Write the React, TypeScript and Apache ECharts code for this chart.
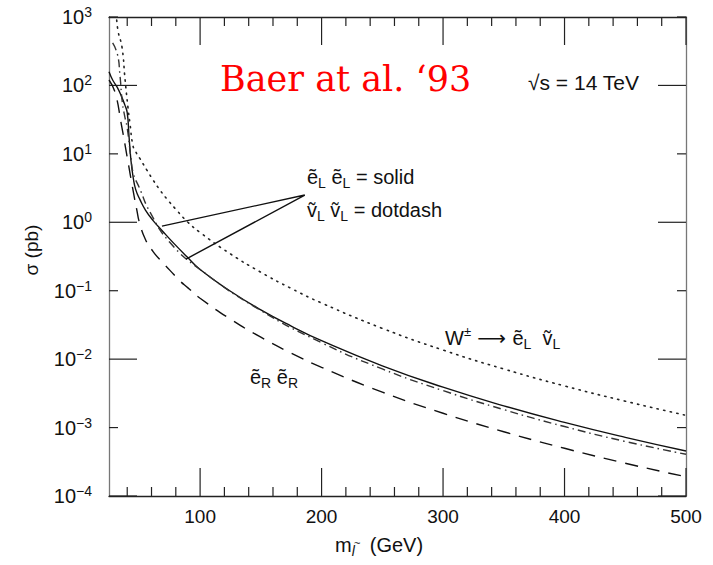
import React, { useEffect, useRef } from "react";
import * as echarts from "echarts";

// ---- data (mass in GeV, cross section in pb) ----
const massELEL = [25, 28, 31.6, 35, 38, 40, 41.5, 43, 45, 47, 50.5, 55, 61.5, 68.6, 78, 89, 100, 125, 150, 175, 200, 250, 300, 350, 400, 450, 500];
const sigmaELEL = [158, 120, 95, 71, 52, 40, 17.8, 8.3, 4.4, 3.0, 2.14, 1.51, 1.05, 0.76, 0.50, 0.316, 0.204, 0.0982, 0.0525, 0.0304, 0.0186, 0.00798, 0.00389, 0.00208, 0.00119, 0.000719, 0.000455];

const massSnSn = [28, 32, 34, 36, 38, 40, 43, 45, 50, 59, 75, 100, 150, 200, 250, 300, 350, 400, 450, 500];
const sigmaSnSn = [417, 282, 141, 56, 35, 24, 8.9, 5.2, 3.2, 1.38, 0.51, 0.204, 0.0513, 0.01738, 0.00719, 0.00347, 0.00183, 0.001035, 0.000627, 0.000407];

const massERER = [25, 30, 35, 40, 45, 48, 50, 55, 61, 68, 75, 83, 90, 100, 125, 150, 175, 200, 250, 300, 350, 400, 450, 500];
const sigmaERER = [120, 79, 28, 8.9, 2.8, 1.48, 1.0, 0.56, 0.38, 0.27, 0.20, 0.141, 0.110, 0.0776, 0.0384, 0.0209, 0.01225, 0.00759, 0.0033, 0.00162, 0.000869, 0.000498, 0.000301, 0.000191];

const massW = [31, 32.4, 35.7, 38.2, 40.6, 42.3, 44.7, 47, 50.5, 56.3, 61.2, 67, 72.7, 80, 90, 100, 125, 150, 175, 200, 250, 300, 350, 400, 450, 500];
const sigmaW = [1122, 631, 363, 123, 47.9, 27.5, 13.2, 10.7, 8.5, 5.75, 4.17, 2.95, 2.19, 1.55, 1.0, 0.708, 0.345, 0.186, 0.1079, 0.0661, 0.0282, 0.01358, 0.00718, 0.00406, 0.00243, 0.00151];

// pointer lines of the legend: end on solid curve -> apex at label -> end on solid curve
const pointerMass = [68.6, 186.2, 88.4];
const pointerSigma = [0.88, 2.5, 0.29];

// axis range and ticks
const X_MIN = 25;
const X_MAX = 500;
const Y_MIN = 1e-4;
const Y_MAX = 1e3;
const xMajorTicks = [100, 200, 300, 400, 500];
const xMinorTicks = [40, 60, 80, 120, 140, 160, 180, 220, 240, 260, 280, 320, 340, 360, 380, 420, 440, 460, 480];
const yLongTicks = [1e-4, 1e-2, 1, 100];
const yShortTicks = [1e-3, 1e-1, 10, 1000];

const FONT = "'Liberation Sans', Arial, sans-serif";

const pairs = (xs: number[], ys: number[]) => xs.map((x, i) => [x, ys[i]]);

const tickStyle = { stroke: "#222", lineWidth: 1.2 };

const xTickSeries = (values: number[], len: number) => ({
  type: "custom",
  silent: true,
  data: values.map((v) => [v, 1]),
  renderItem: (_p: any, api: any) => {
    const v = api.value(0);
    const b = api.coord([v, Y_MIN]);
    const t = api.coord([v, Y_MAX]);
    return {
      type: "group",
      children: [
        { type: "line", shape: { x1: b[0], y1: b[1], x2: b[0], y2: b[1] - len }, style: tickStyle },
        { type: "line", shape: { x1: t[0], y1: t[1], x2: t[0], y2: t[1] + len }, style: tickStyle },
      ],
    };
  },
});

const yTickSeries = (values: number[], len: number) => ({
  type: "custom",
  silent: true,
  data: values.map((v) => [100, v]),
  renderItem: (_p: any, api: any) => {
    const v = api.value(1);
    const l = api.coord([X_MIN, v]);
    const r = api.coord([X_MAX, v]);
    return {
      type: "group",
      children: [
        { type: "line", shape: { x1: l[0], y1: l[1], x2: l[0] + len, y2: l[1] }, style: tickStyle },
        { type: "line", shape: { x1: r[0], y1: r[1], x2: r[0] - len, y2: r[1] }, style: tickStyle },
      ],
    };
  },
});

export default function App() {
  const ref = useRef<HTMLDivElement>(null);
  useEffect(() => {
    document.body.style.margin = "0";
    const chart = echarts.init(ref.current!, null, { renderer: "svg" });

    const xAxisDef = (pos: "bottom" | "top", labels: boolean) => ({
      type: "value",
      position: pos,
      min: X_MIN,
      max: X_MAX,
      axisLine: { show: true, onZero: false, lineStyle: { color: "#222", width: 1.3 } },
      axisTick: { show: false },
      axisLabel: labels
        ? { show: true, customValues: xMajorTicks, fontSize: 19, fontFamily: FONT, color: "#111", margin: 11 }
        : { show: false },
      splitLine: { show: false },
    });

    const yAxisDef = (pos: "left" | "right", labels: boolean) => ({
      type: "log",
      logBase: 10,
      position: pos,
      min: Y_MIN,
      max: Y_MAX,
      splitNumber: 7,
      axisLine: { show: true, onZero: false, lineStyle: { color: "#777", width: 1.3 } },
      axisTick: { show: false },
      axisLabel: labels
        ? {
            show: true,
            margin: 17,
            formatter: (v: number) => {
              const e = Math.round(Math.log10(v));
              const s = e < 0 ? "\u2212" + -e : String(e);
              return "{b|10}{s|" + s + "}";
            },
            rich: {
              b: { fontSize: 20, fontFamily: FONT, color: "#111", lineHeight: 24 },
              s: { fontSize: 14, fontFamily: FONT, color: "#111", lineHeight: 14, verticalAlign: "top" },
            },
          }
        : { show: false },
      splitLine: { show: false },
    });

    const t = { fontSize: 20, fontFamily: FONT, fill: "#111", lineHeight: 26, verticalAlign: "middle" };
    const sub = { fontSize: 14, fontFamily: FONT, fill: "#111", lineHeight: 12, verticalAlign: "bottom" };
    const sup = { fontSize: 13, fontFamily: FONT, fill: "#111", lineHeight: 12, verticalAlign: "top" };
    const arrow = { fontSize: 20, fontFamily: "'DejaVu Sans', sans-serif", fill: "#111", lineHeight: 26, verticalAlign: "middle" };

    const curve = (name: string, xs: number[], ys: number[], lineStyle: any) => ({
      name,
      type: "line",
      data: pairs(xs, ys),
      symbol: "none",
      smooth: 0.5,
      lineStyle,
      silent: true,
    });

    const option: any = {
      animation: false,
      grid: { left: 109, right: 27, top: 17, bottom: 69 },
      xAxis: [xAxisDef("bottom", true), xAxisDef("top", false)],
      yAxis: [yAxisDef("left", true), yAxisDef("right", false)],
      series: [
        xTickSeries(xMajorTicks, 28),
        xTickSeries(xMinorTicks, 9),
        yTickSeries(yLongTicks, 28),
        yTickSeries(yShortTicks, 9),
        curve("eLeL", massELEL, sigmaELEL, { color: "#111", width: 1.4 }),
        curve("snsn", massSnSn, sigmaSnSn, { color: "#333", width: 1.4, type: [8, 4, 1.5, 4] }),
        curve("eReR", massERER, sigmaERER, { color: "#111", width: 1.4, type: [13, 9] }),
        curve("W", massW, sigmaW, { color: "#222", width: 1.6, type: [1.3, 5.4], cap: "round" }),
        {
          name: "pointer",
          type: "line",
          data: pairs(pointerMass, pointerSigma),
          symbol: "none",
          lineStyle: { color: "#111", width: 1.4 },
          silent: true,
        },
      ],
      graphic: [
        {
          type: "text",
          x: 220,
          y: 79,
          style: { text: "Baer at al. \u201893", fill: "#ff0000", fontSize: 35, fontFamily: "'DejaVu Serif', serif", verticalAlign: "middle" },
        },
        {
          type: "text",
          x: 528,
          y: 82,
          style: { text: "\u221As = 14 TeV", fill: "#111", fontSize: 21, fontFamily: FONT, verticalAlign: "middle" },
        },
        {
          type: "text",
          x: 307,
          y: 177,
          style: { text: "{t|\u1EBD}{sub|L}{t| \u1EBD}{sub|L}{t| = solid}", rich: { t, sub }, verticalAlign: "middle" },
        },
        {
          type: "text",
          x: 307,
          y: 210,
          style: { text: "{t|\u1E7D}{sub|L}{t| \u1E7D}{sub|L}{t| = dotdash}", rich: { t, sub }, verticalAlign: "middle" },
        },
        {
          type: "text",
          x: 445,
          y: 338,
          style: { text: "{t|W}{sup|\u00B1}{a| \u27F6 }{t|\u1EBD}{sub|L}{t|  \u1E7D}{sub|L}", rich: { t, sub, sup, a: arrow }, verticalAlign: "middle" },
        },
        {
          type: "text",
          x: 250,
          y: 377,
          style: { text: "{t|\u1EBD}{sub|R}{t| \u1EBD}{sub|R}", rich: { t, sub }, verticalAlign: "middle" },
        },
        {
          type: "text",
          x: 335,
          y: 545,
          style: {
            text: "{t|m}{sub|l}{n|(GeV)}",
            rich: { t, sub: { ...sub, fontStyle: "italic" }, n: { ...t, padding: [0, 0, 0, 15] } },
            verticalAlign: "middle",
          },
        },
        {
          type: "text",
          x: 354,
          y: 543,
          style: { text: "~", fill: "#111", fontSize: 11, fontFamily: FONT, verticalAlign: "middle" },
        },
        {
          type: "text",
          x: 31,
          y: 250,
          rotation: Math.PI / 2,
          style: { text: "\u03C3 (pb)", fill: "#111", fontSize: 19, fontFamily: FONT, align: "center", verticalAlign: "middle" },
        },
      ],
    };
    chart.setOption(option);
    return () => chart.dispose();
  }, []);
  return <div ref={ref} style={{ width: 713, height: 565 }} />;
}
